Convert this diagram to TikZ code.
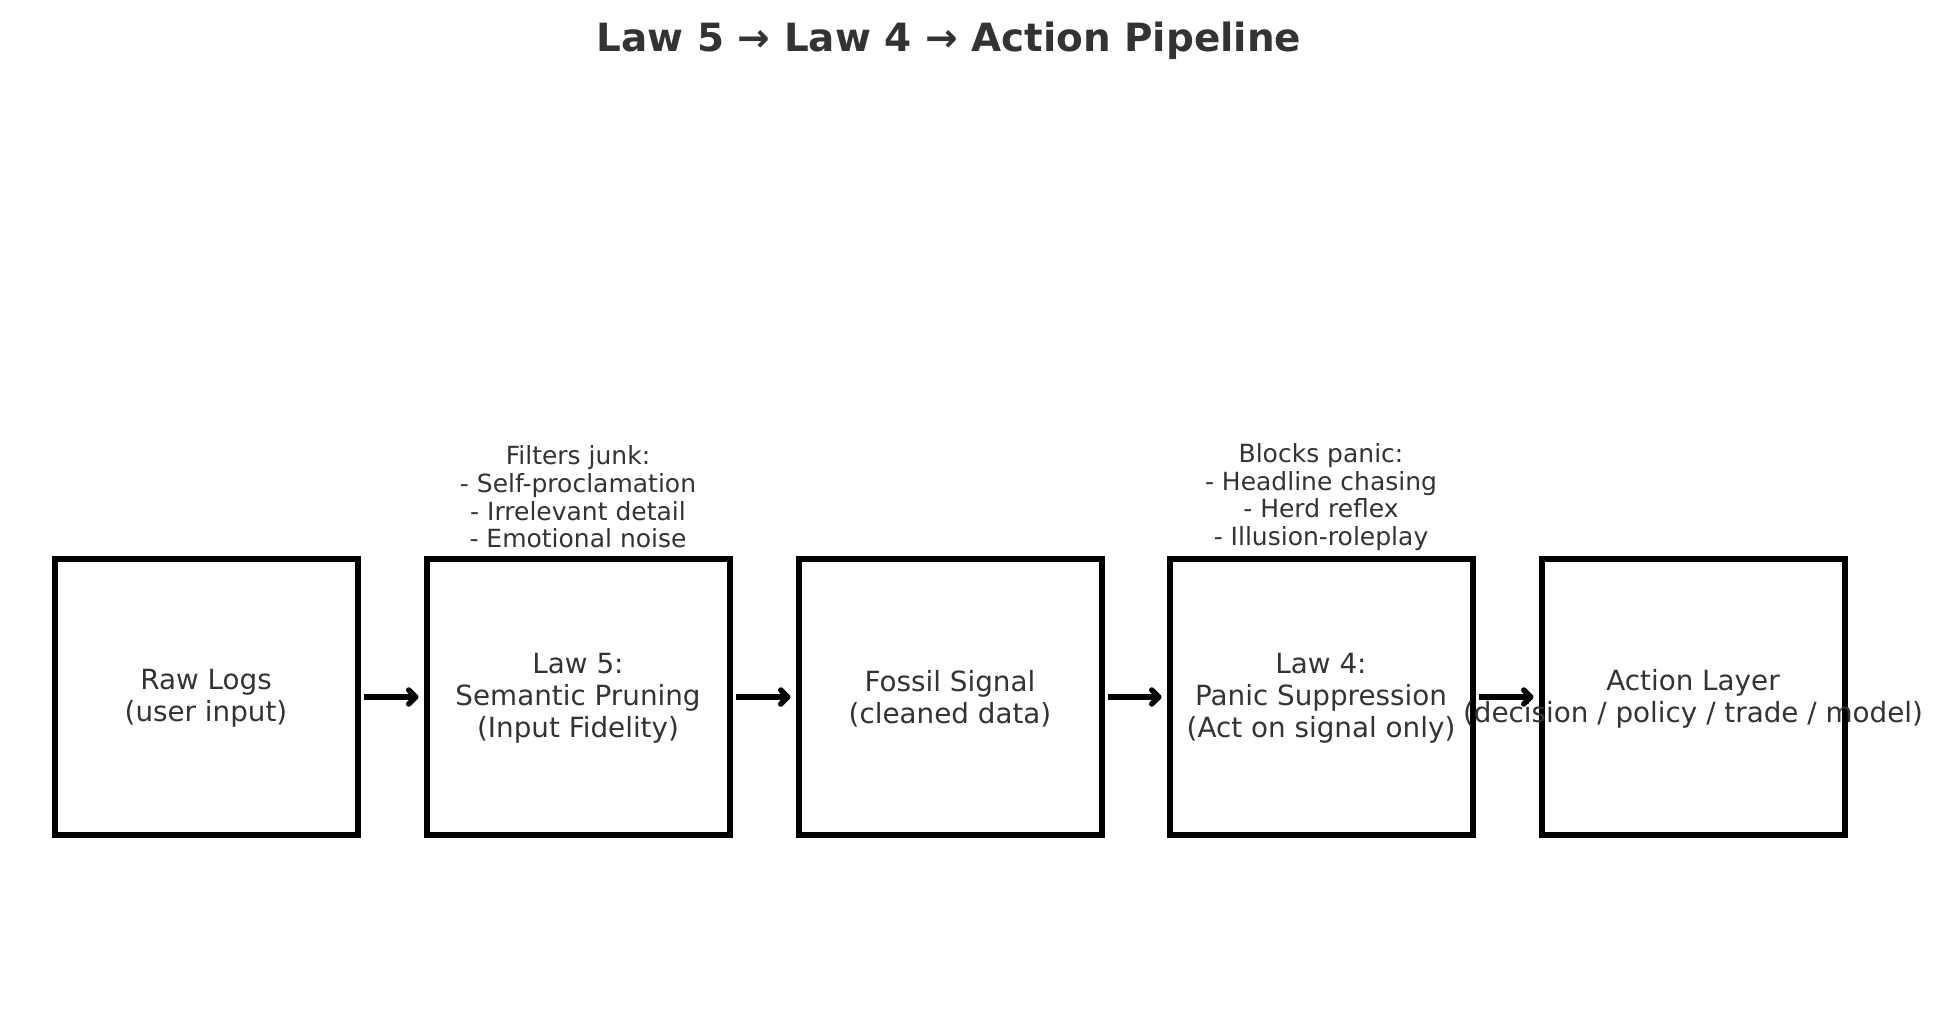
\documentclass[tikz,border=0pt]{standalone}
\usepackage{fontspec}
\setmainfont{DejaVu Sans}
\usetikzlibrary{arrows.meta}
\definecolor{txt}{HTML}{333333}
\tikzset{
  box/.style={draw=black, line width=6pt, minimum width=303pt, minimum height=276pt, inner sep=0pt},
  boxtext/.style={text=txt, align=center, inner sep=0pt, font=\fontsize{27.8}{32.2}\selectfont},
  annot/.style={text=txt, align=center, inner sep=0pt, font=\fontsize{25}{27.7}\selectfont},
  flow/.style={line width=5.5pt, -{Straight Barb[length=7pt,width=14pt,round]}, shorten <=3pt, shorten >=5pt},
}
\begin{document}
\begin{tikzpicture}[x=1pt,y=-1pt]
\useasboundingbox (0,0) rectangle (1943,1010);
\node[text=txt, font=\bfseries\fontsize{38.9}{44}\selectfont, inner sep=0pt] (title) at (949,41) {Law 5 → Law 4 → Action Pipeline};
\node[box] (b1) at (206,697) {};
\node[box] (b2) at (578,697) {};
\node[box] (b3) at (950,697) {};
\node[box] (b4) at (1321,697) {};
\node[box] (b5) at (1693,697) {};
\node[boxtext] (t1) at ([yshift=-1.5pt]b1.center) {Raw Logs\\(user input)};
\node[boxtext] (t2) at ([yshift=-1.5pt]b2.center) {Law 5:\\Semantic Pruning\\(Input Fidelity)};
\node[boxtext] (t3) at ([yshift=-1.5pt]b3.center) {Fossil Signal\\(cleaned data)};
\node[boxtext] (t4) at ([yshift=-1.5pt]b4.center) {Law 4:\\Panic Suppression\\(Act on signal only)};
\node[boxtext] (t5) at ([yshift=-1.5pt]b5.center) {Action Layer\\(decision / policy / trade / model)};
\node[annot] (a2) at (578,497) {Filters junk:\\- Self-proclamation\\- Irrelevant detail\\- Emotional noise};
\node[annot] (a4) at (1321,497) {Blocks panic:\\- Headline chasing\\- Herd reflex\\- Illusion-roleplay};
\draw[flow] (b1.east) -- (b2.west);
\draw[flow] (b2.east) -- (b3.west);
\draw[flow] (b3.east) -- (b4.west);
\draw[flow] (b4.east) -- (b5.west);
\end{tikzpicture}
\end{document}
